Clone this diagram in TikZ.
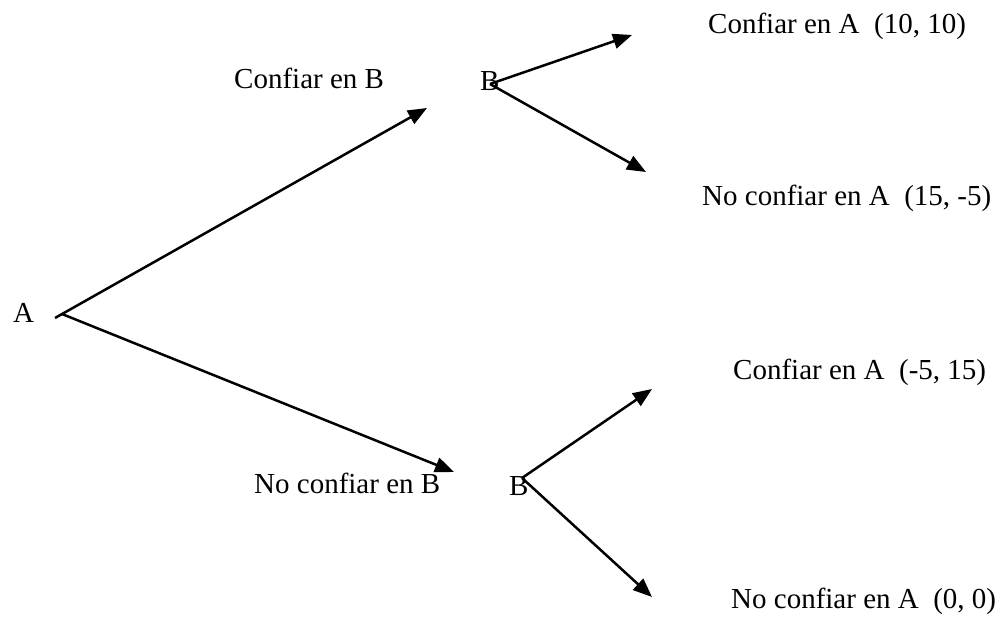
\documentclass[tikz,border=0pt]{standalone}
\usepackage{fontspec}
\setmainfont{Liberation Serif}
\usetikzlibrary{arrows.meta}
\tikzset{
  lbl/.style={inner sep=0pt, anchor=base west, font=\fontsize{29}{34}\selectfont},
  conn/.style={line width=2.5pt, -{Triangle[length=19pt,width=15pt]}}
}
\begin{document}
\begin{tikzpicture}[x=1pt,y=-1pt]
\useasboundingbox (0,0) rectangle (1001,616);
% labels
\node[lbl] (A) at (13,322) {A};
\node[lbl] (cB) at (234,88) {Confiar en B};
\node[lbl] (B1) at (480,90) {B};
\node[lbl] (ncB) at (254,493) {No confiar en B};
\node[lbl] (B2) at (509,495) {B};
\node[lbl] (o1) at (708,33) {Confiar en A\ \ (10, 10)};
\node[lbl] (o2) at (702,205) {No confiar en A\ \ (15, -5)};
\node[lbl] (o3) at (733,379) {Confiar en A\ \ (-5, 15)};
\node[lbl] (o4) at (731,608) {No confiar en A\ \ (0, 0)};
% junction points and arrow ends
\coordinate (r0) at (55,318);
\coordinate (r) at (62,314);
\coordinate (t1) at (427,108);
\coordinate (t2) at (454,472);
\coordinate (j1) at (490,84);
\coordinate (j2) at (522,478);
\coordinate (e1) at (632,35);
\coordinate (e2) at (646,172);
\coordinate (e3) at (652,389);
\coordinate (e4) at (652,597);
% connectors
\draw[conn] (r0) -- (t1);
\draw[conn] (r) -- (t2);
\draw[conn] (j1) -- (e1);
\draw[conn] (j1) -- (e2);
\draw[conn] (j2) -- (e3);
\draw[conn] (j2) -- (e4);
\end{tikzpicture}
\end{document}
